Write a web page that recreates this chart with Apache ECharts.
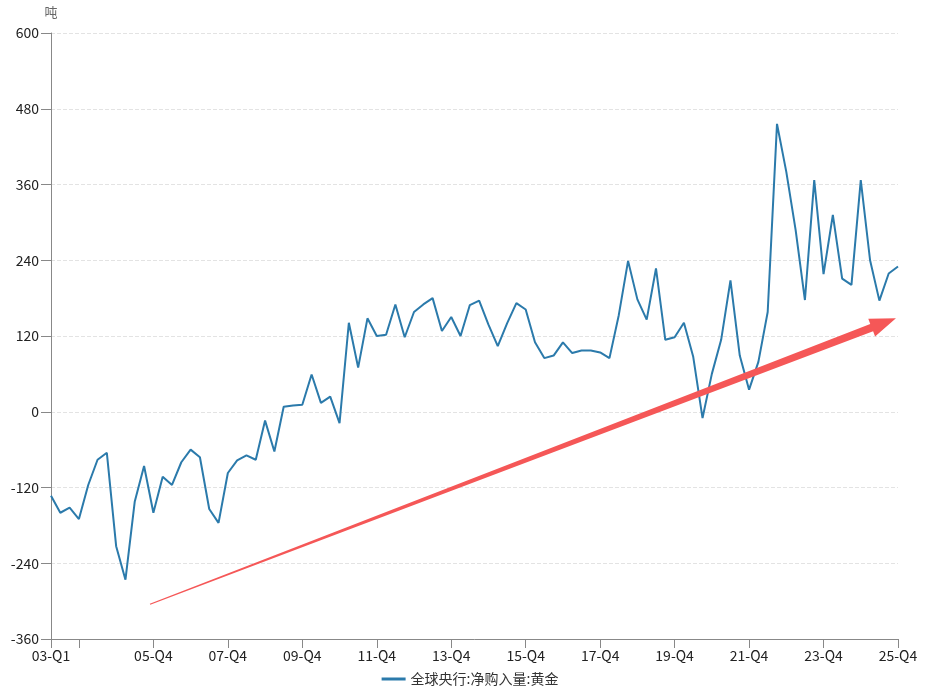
<!DOCTYPE html>
<html>
<head>
<meta charset="utf-8">
<script src="https://cdn.jsdelivr.net/npm/echarts@6/dist/echarts.min.js"></script>
<style>
html,body{margin:0;padding:0;background:#fff;}
#chart{width:940px;height:695px;}
</style>
</head>
<body>
<div id="chart"></div>
<script>
// Quarter categories 03-Q1 ... 25-Q4
var years = ['03','04','05','06','07','08','09','10','11','12','13','14','15','16','17','18','19','20','21','22','23','24','25'];
var quarters = ['Q1','Q2','Q3','Q4'];
var categories = [];
years.forEach(function (y) { quarters.forEach(function (q) { categories.push(y + '-' + q); }); });

var seriesName = '全球央行:净购入量:黄金';
var netPurchases = [
  -133, -160, -152, -170, -116, -76, -65, -213,
  -266, -142, -86, -160, -103, -116, -80, -60,
  -72, -154, -176, -97, -77, -69, -76, -14,
  -63, 8, 10, 11, 59, 14, 24, -18,
  141, 70, 148, 120, 122, 170, 118, 158,
  170, 180, 128, 150, 120, 169, 176, 138,
  104, 140, 172, 162, 110, 85, 89, 110,
  93, 97, 97, 94, 85, 153, 239, 178,
  146, 227, 114, 118, 141, 87, -10, 60,
  114, 208, 89, 35, 79, 158, 456, 380,
  288, 177, 367, 218, 312, 211, 201, 367,
  240, 176, 219, 230
];

var yTicks = { min: -360, max: 600, interval: 120 };
var yUnit = '吨';

// Trend arrow annotation, in data coordinates (category index, value)
var arrowFrom = [10.64, -305];
var arrowTo = [90.78, 148];

var chart = echarts.init(document.getElementById('chart'), null, { renderer: 'canvas' });
var font = '"Microsoft YaHei","Noto Sans CJK SC","Noto Sans",sans-serif';

chart.setOption({
  animation: false,
  backgroundColor: '#fff',
  textStyle: { fontFamily: font },
  grid: { left: 51, right: 42, top: 33, bottom: 56, containLabel: false },
  legend: {
    bottom: 4,
    left: 'center',
    icon: 'rect',
    itemWidth: 24,
    itemHeight: 3,
    itemGap: 10,
    textStyle: { fontSize: 14, color: '#333', fontFamily: font },
    data: [seriesName]
  },
  xAxis: {
    type: 'category',
    data: categories,
    boundaryGap: false,
    axisLine: { onZero: false, lineStyle: { color: '#888', width: 1 } },
    axisTick: {
      length: 9,
      lineStyle: { color: '#888' },
      interval: function (i) { return i === 0 || (i - 3) % 8 === 0; }
    },
    axisLabel: {
      margin: 10,
      fontSize: 14,
      color: '#222',
      fontFamily: font,
      interval: function (i) { return i === 0 || (i > 3 && (i - 3) % 8 === 0); }
    },
    splitLine: { show: false }
  },
  yAxis: {
    type: 'value',
    min: yTicks.min,
    max: yTicks.max,
    interval: yTicks.interval,
    name: yUnit,
    nameGap: 14,
    nameTextStyle: { color: '#666', fontSize: 13, fontFamily: font },
    axisLine: { show: true, onZero: false, lineStyle: { color: '#888', width: 1 } },
    axisTick: { show: true, length: 10, lineStyle: { color: '#888' } },
    axisLabel: { margin: 12, fontSize: 14, color: '#222', fontFamily: font },
    splitLine: { show: true, lineStyle: { color: '#e3e3e3', type: 'dashed', width: 1 } }
  },
  series: [{
    name: seriesName,
    type: 'line',
    data: netPurchases,
    showSymbol: false,
    symbol: 'none',
    lineStyle: { color: '#2b7aab', width: 2 },
    itemStyle: { color: '#2b7aab' }
  }]
});

function px(idx, val) {
  var x0 = chart.convertToPixel({ xAxisIndex: 0 }, 0);
  var x1 = chart.convertToPixel({ xAxisIndex: 0 }, categories.length - 1);
  var x = x0 + (x1 - x0) * idx / (categories.length - 1);
  var y = chart.convertToPixel({ yAxisIndex: 0 }, val);
  return [x, y];
}

var p0 = px(arrowFrom[0], arrowFrom[1]);
var p1 = px(arrowTo[0], arrowTo[1]);
var dx = p1[0] - p0[0], dy = p1[1] - p0[1];
var len = Math.sqrt(dx * dx + dy * dy);
var ux = dx / len, uy = dy / len;
var nx = -uy, ny = ux;
var headLen = 26, headHalf = 9.5, tailHalf = 0.6, neckHalf = 4;
var bx = p1[0] - ux * headLen, by = p1[1] - uy * headLen;
var pts = [
  [p0[0] + nx * tailHalf, p0[1] + ny * tailHalf],
  [bx + nx * neckHalf, by + ny * neckHalf],
  [bx + nx * headHalf, by + ny * headHalf],
  [p1[0], p1[1]],
  [bx - nx * headHalf, by - ny * headHalf],
  [bx - nx * neckHalf, by - ny * neckHalf],
  [p0[0] - nx * tailHalf, p0[1] - ny * tailHalf]
];

chart.setOption({
  graphic: [{
    type: 'polygon',
    shape: { points: pts },
    style: { fill: '#f55757' },
    z: 100
  }]
});
</script>
</body>
</html>
